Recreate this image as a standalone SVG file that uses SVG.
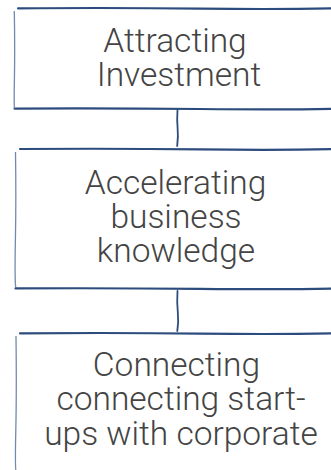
<svg xmlns="http://www.w3.org/2000/svg" width="331" height="470" viewBox="0 0 331 470">
  <style>
    .top { fill: none; stroke: #2d4c7e; stroke-width: 2.2; stroke-linecap: round; }
    .side { fill: none; stroke: #5a74a0; stroke-width: 1.3; stroke-opacity: 0.85; }
    .box { fill: #ffffff; }
    .conn { fill: none; stroke: #2d4c7e; stroke-width: 1.8; stroke-linecap: round; }
    .label { font-family: Roboto, "Liberation Sans", Arial, sans-serif; font-weight: 300; font-size: 33.5px; fill: #444444; text-anchor: middle; }
  </style>
  <rect width="331" height="470" fill="#ffffff"/>
  <g id="connectors">
    <path class="conn" d="M177.5 110 Q176.8 120 177.6 128 T177.2 146"/>
    <path class="conn" d="M177.5 291 Q176.8 302 177.8 312 T177.3 331"/>
  </g>
  <g id="node-attracting">
    <rect class="box" x="15" y="8.5" width="330" height="100"/>
    <path class="top" d="M18 8.3 Q120 7.6 200 8.6 T340 8.2"/>
    <path class="top" d="M14.5 108.6 Q110 108.2 200 109 T340 108.6"/>
    <path class="side" d="M14.3 11 Q15 50 14.4 80 T14.8 108"/>
    <text class="label" x="175" y="51.5">Attracting</text>
    <text class="label" x="179" y="86">Investment</text>
  </g>
  <g id="node-accelerating">
    <rect class="box" x="16" y="149" width="330" height="139"/>
    <path class="top" d="M20 149 Q120 148.4 200 149.4 T340 149"/>
    <path class="top" d="M15.5 288.4 Q110 288 200 288.8 T340 288.4"/>
    <path class="side" d="M15.5 152 Q16.2 200 15.4 240 T15.8 288"/>
    <text class="label" x="175.5" y="193.5">Accelerating</text>
    <text class="label" x="176" y="227.5">business</text>
    <text class="label" x="176" y="261.5">knowledge</text>
  </g>
  <g id="node-connecting">
    <rect class="box" x="16" y="333" width="330" height="150"/>
    <path class="top" d="M20 333.3 Q120 332.6 200 333.6 T340 333.2"/>
    <path class="side" d="M16 336 Q16.7 390 15.8 430 T16.2 472"/>
    <text class="label" x="176.5" y="375.5">Connecting</text>
    <text class="label" x="181" y="410">connecting start-</text>
    <text class="label" x="181" y="444.5">ups with corporate</text>
  </g>
</svg>
